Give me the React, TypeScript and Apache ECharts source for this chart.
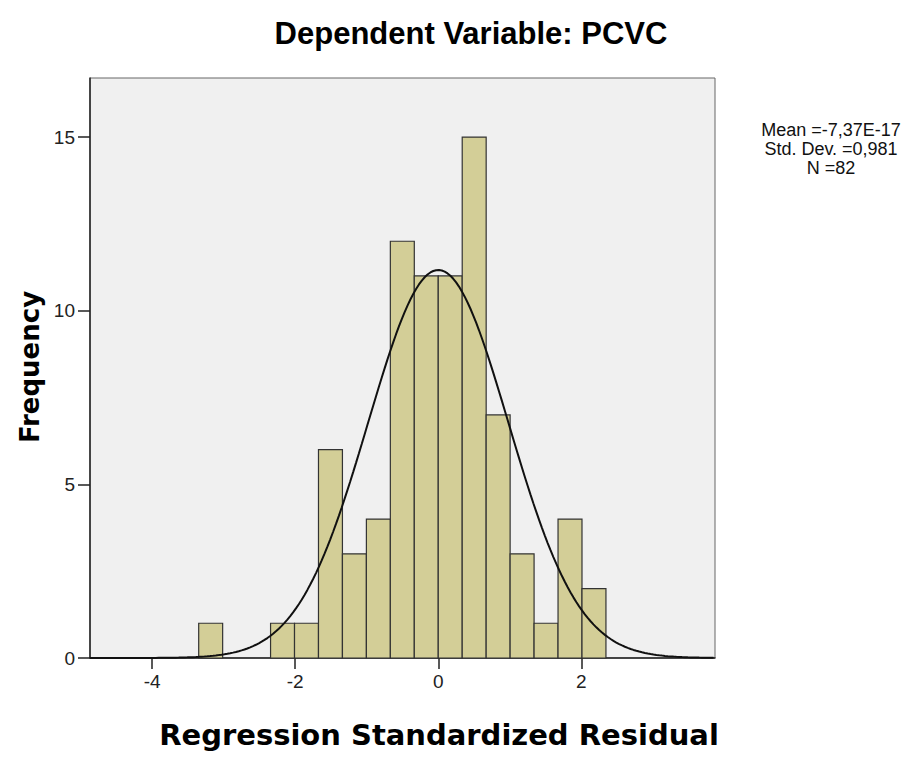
import React, { useEffect, useRef } from "react";
import * as echarts from "echarts";

const binWidth = 0.335;
// bin start index (in units of binWidth) and frequency
const binStarts = [-10, -7, -6, -5, -4, -3, -2, -1, 0, 1, 2, 3, 4, 5, 6];
const binCounts = [1, 1, 1, 6, 3, 4, 12, 11, 11, 15, 7, 3, 1, 4, 2];
const xTicks = [-4, -2, 0, 2];
const yTicks = [0, 5, 10, 15];
const statsMean = 0; // -7.37E-17
const statsSD = 0.981;
const statsN = 82;
const statsLines = ["Mean =-7,37E-17", "Std. Dev. =0,981", "N =82"];

const X_MIN = -4.87;
const X_MAX = 3.87;
const Y_MAX = 16.7;

export default function App() {
  const ref = useRef<HTMLDivElement>(null);
  useEffect(() => {
    if (!ref.current) return;
    const chart = echarts.init(ref.current, undefined, { renderer: "svg" });
    const barData = binStarts.map((s, i) => [s * binWidth, (s + 1) * binWidth, binCounts[i]]);
    const curve: number[][] = [];
    const scale = (statsN * binWidth) / (statsSD * Math.sqrt(2 * Math.PI));
    for (let x = X_MIN; x <= X_MAX + 1e-9; x += 0.04) {
      const z = (x - statsMean) / statsSD;
      curve.push([x, scale * Math.exp(-0.5 * z * z)]);
    }
    const font = "'Liberation Sans', Arial, sans-serif";
    const wide = "'DejaVu Sans', Verdana, sans-serif";
    chart.setOption({
      animation: false,
      textStyle: { fontFamily: font },
      title: {
        text: "Dependent Variable: PCVC",
        left: 466,
        top: 13,
        textAlign: "center",
        textStyle: { fontSize: 31, fontWeight: "bold", color: "#000", fontFamily: font },
      },
      grid: {
        left: 90,
        right: 205,
        top: 78,
        bottom: 102,
        show: true,
        backgroundColor: "#f0f0f0",
        borderColor: "#666",
        borderWidth: 1,
      },
      xAxis: {
        type: "value",
        min: X_MIN,
        max: X_MAX,
        axisLine: { show: true, onZero: false, lineStyle: { color: "#222", width: 1.5 } },
        axisTick: { show: true, customValues: xTicks, length: 11, lineStyle: { color: "#222", width: 1.5 } },
        axisLabel: { customValues: xTicks, fontSize: 19, color: "#222", margin: 14, fontFamily: font },
        splitLine: { show: false },
      },
      yAxis: {
        type: "value",
        min: 0,
        max: Y_MAX,
        axisLine: { show: true, onZero: false, lineStyle: { color: "#222", width: 1.5 } },
        axisTick: { show: true, customValues: yTicks, length: 12, lineStyle: { color: "#222", width: 1.5 } },
        axisLabel: { customValues: yTicks, fontSize: 19, color: "#222", margin: 15, fontFamily: font },
        splitLine: { show: false },
      },
      graphic: [
        {
          type: "text",
          x: 439,
          y: 735,
          style: {
            text: "Regression Standardized Residual",
            fontSize: 29,
            fontWeight: "bold",
            fontFamily: wide,
            fill: "#000",
            textAlign: "center",
            textVerticalAlign: "middle",
          },
        },
        {
          type: "text",
          x: 30,
          y: 367,
          rotation: Math.PI / 2,
          style: {
            text: "Frequency",
            fontSize: 26,
            fontWeight: "bold",
            fontFamily: wide,
            fill: "#000",
            textAlign: "center",
            textVerticalAlign: "middle",
          },
        },
        ...statsLines.map((t, i) => ({
          type: "text",
          x: 831,
          y: 130 + i * 19,
          style: {
            text: t,
            fontSize: 18,
            fontFamily: font,
            fill: "#111",
            textAlign: "center",
            textVerticalAlign: "middle",
          },
        })),
      ],
      series: [
        {
          type: "custom",
          data: barData,
          encode: { x: [0, 1], y: 2 },
          renderItem: (params: any, api: any) => {
            const p0 = api.coord([api.value(0), api.value(2)]);
            const p1 = api.coord([api.value(1), 0]);
            return {
              type: "rect",
              shape: { x: p0[0], y: p0[1], width: p1[0] - p0[0], height: p1[1] - p0[1] },
              style: { fill: "#d3ce97", stroke: "#333", lineWidth: 1.2 },
            };
          },
          z: 2,
        },
        {
          type: "line",
          data: curve,
          showSymbol: false,
          smooth: false,
          lineStyle: { color: "#111", width: 2 },
          z: 3,
        },
      ],
    });
    return () => chart.dispose();
  }, []);
  return <div ref={ref} style={{ position: "absolute", left: 0, top: 0, width: 920, height: 760 }} />;
}
